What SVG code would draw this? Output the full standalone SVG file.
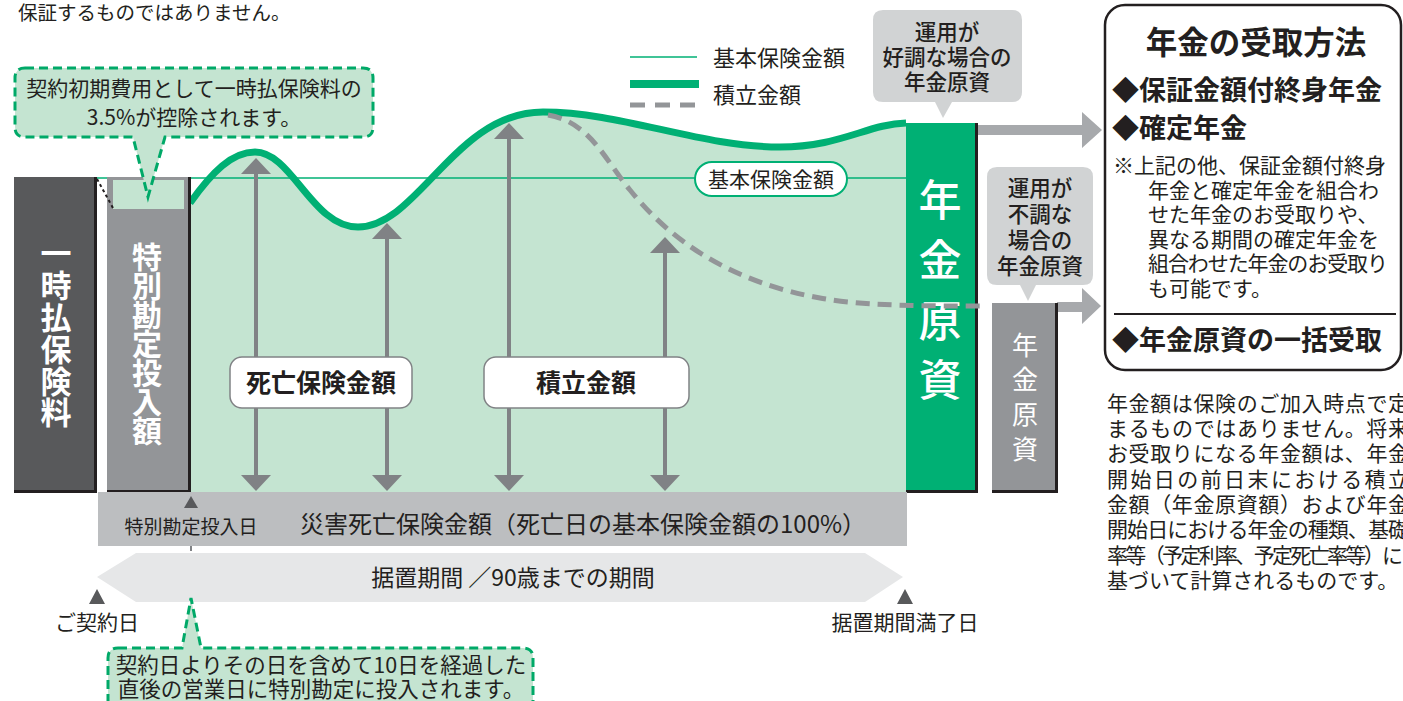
<svg xmlns="http://www.w3.org/2000/svg" width="1403" height="701" viewBox="0 0 1403 701">
<style>
text{font-family:"Noto Sans CJK JP","Noto Sans",sans-serif;fill:#231f20}
.w{fill:#ffffff}
.b{font-weight:bold}
.m{font-weight:500}
.mid{text-anchor:middle}
.para{font-size:21px}
.dash-green{fill:#c4e4d1;stroke:#00a968;stroke-width:3;stroke-dasharray:9 5}
.gcall{fill:#d1d3d4}
.edge{stroke:#231f20;stroke-width:3;fill:none}
.varrow{stroke:#808285;stroke-width:4;marker-start:url(#ah);marker-end:url(#ah)}
.rarrow{fill:#a7a9ac}
</style>
<defs>
<marker id="ah" markerUnits="userSpaceOnUse" markerWidth="16" markerHeight="30" viewBox="0 0 16 30" refX="0" refY="15" orient="auto-start-reverse">
<path d="M0,0 L16,15 L0,30 Z" fill="#808285"/>
</marker>
</defs>
<rect width="1403" height="701" fill="#ffffff"/>

<text x="18" y="20" font-size="19.5">保証するものではありません。</text>

<g id="chart-area">
<path d="M190,492 V203 C212,172 232,152 255,152 C292,152 312,227 358,227 C418,227 455,112 543,112 C622,112 700,147 780,147 C840,147 868,124 906,123 V492 Z" fill="#c4e4d1"/>
<line x1="97" y1="178" x2="906" y2="178" stroke="#00b074" stroke-width="1.6"/>
<path d="M190,203 C212,172 232,152 255,152 C292,152 312,227 358,227 C418,227 455,112 543,112 C622,112 700,147 780,147 C840,147 868,124 906,123" fill="none" stroke="#00b074" stroke-width="7"/>
</g>

<g id="lump-sum">
<rect x="14" y="177" width="83" height="315" fill="#58595b"/>
<path class="edge" d="M95.5,177 V491.5 H14"/>
<text class="w b mid" font-size="31"><tspan x="56" y="265">一</tspan><tspan x="56" y="297">時</tspan><tspan x="56" y="329">払</tspan><tspan x="56" y="361">保</tspan><tspan x="56" y="393">険</tspan><tspan x="56" y="424">料</tspan></text>
</g>

<g id="special-account">
<rect x="107" y="177" width="83" height="315" fill="#939598"/>
<rect x="113" y="180" width="71" height="29" fill="#c4e4d1"/>
<path class="edge" d="M189.5,177 V491.5 H107"/>
<line x1="97" y1="179" x2="113" y2="208" stroke="#231f20" stroke-width="2" stroke-dasharray="3 3"/>
<text class="w b mid" font-size="30"><tspan x="147" y="268">特</tspan><tspan x="147" y="297">別</tspan><tspan x="147" y="326">勘</tspan><tspan x="147" y="355">定</tspan><tspan x="147" y="384">投</tspan><tspan x="147" y="413">入</tspan><tspan x="147" y="442">額</tspan></text>
</g>

<g id="fee-callout">
<path class="dash-green" d="M25,68 H363 Q373,68 373,78 V127 Q373,137 363,137 H165 L148,197 L133,137 H25 Q15,137 15,127 V78 Q15,68 25,68 Z"/>
<text class="mid" font-size="21"><tspan x="194" y="96">契約初期費用として一時払保険料の</tspan><tspan x="194" y="125">3.5%が控除されます。</tspan></text>
</g>

<g id="legend">
<line x1="630" y1="57" x2="697" y2="57" stroke="#00b074" stroke-width="1.6"/>
<line x1="630" y1="84" x2="699" y2="84" stroke="#00b074" stroke-width="8"/>
<line x1="630" y1="105" x2="695" y2="105" stroke="#939598" stroke-width="5" stroke-dasharray="15 10"/>
<text x="713" y="66" font-size="22">基本保険金額</text>
<text x="713" y="103" font-size="22">積立金額</text>
</g>

<g id="connectors">
<line class="varrow" x1="256" y1="174" x2="256" y2="475"/>
<line class="varrow" x1="387" y1="239" x2="387" y2="475"/>
<line class="varrow" x1="509" y1="139" x2="509" y2="475"/>
<line class="varrow" x1="665" y1="253" x2="665" y2="475"/>
<polygon class="rarrow" points="977,125 1082,125 1082,112 1102,130 1082,148 1082,135 977,135"/>
<polygon class="rarrow" points="1057,302 1082,302 1082,288 1101,306 1082,324 1082,312 1057,312"/>
<line x1="191" y1="506" x2="191" y2="598" stroke="#808285" stroke-width="2" stroke-dasharray="5 3"/>
</g>

<g id="basic-amount-label">
<rect x="695" y="162" width="152" height="34" rx="17" fill="#ffffff" stroke="#00b074" stroke-width="2"/>
<text class="mid" x="771" y="187" font-size="21">基本保険金額</text>
</g>

<g id="death-benefit-label">
<rect x="230" y="357" width="182" height="51" rx="12" fill="#ffffff" stroke="#808285" stroke-width="1.5"/>
<text class="b mid" x="321" y="392" font-size="25">死亡保険金額</text>
</g>

<g id="accumulation-label">
<rect x="484" y="357" width="205" height="51" rx="12" fill="#ffffff" stroke="#808285" stroke-width="1.5"/>
<text class="b mid" x="586" y="392" font-size="25">積立金額</text>
</g>

<g id="pension-fund-good">
<rect x="906" y="123" width="71" height="369" fill="#00b074"/>
<path class="edge" d="M976.5,123 V491.5 H906"/>
<text class="w m mid" font-size="43"><tspan x="940" y="216">年</tspan><tspan x="940" y="276">金</tspan><tspan x="940" y="337">原</tspan><tspan x="940" y="396">資</tspan></text>
</g>

<g id="dashed-curve">
<path d="M548,115 C590,122 605,160 630,190 C670,240 730,282 820,298 C860,305 900,306 985,306" fill="none" stroke="#939598" stroke-width="5" stroke-dasharray="14 8"/>
</g>

<g id="pension-fund-poor">
<rect x="992" y="303" width="65" height="189" fill="#939598"/>
<path class="edge" d="M1056.5,303 V491.5 H992"/>
<text class="w mid" font-size="26"><tspan x="1025" y="355">年</tspan><tspan x="1025" y="389">金</tspan><tspan x="1025" y="424">原</tspan><tspan x="1025" y="459">資</tspan></text>
</g>

<g id="good-callout">
<path class="gcall" d="M883,10 H1012 Q1022,10 1022,20 V92 Q1022,102 1012,102 H952 L943,118 L935,102 H883 Q873,102 873,92 V20 Q873,10 883,10 Z"/>
<text class="m mid" font-size="21.5"><tspan x="947" y="40">運用が</tspan><tspan x="947" y="65">好調な場合の</tspan><tspan x="947" y="90">年金原資</tspan></text>
</g>

<g id="poor-callout">
<path class="gcall" d="M997,167 H1083 Q1093,167 1093,177 V275 Q1093,285 1083,285 H1036 L1028,301 L1020,285 H997 Q987,285 987,275 V177 Q987,167 997,167 Z"/>
<text class="m mid" font-size="21.5"><tspan x="1040" y="196">運用が</tspan><tspan x="1040" y="222">不調な</tspan><tspan x="1040" y="248">場合の</tspan><tspan x="1040" y="274">年金原資</tspan></text>
</g>

<g id="accidental-band">
<rect x="98" y="492" width="809" height="54" fill="#bcbec0"/>
<polygon points="184,508 191,496 198,508" fill="#58595b"/>
<text class="mid" x="191" y="534" font-size="19">特別勘定投入日</text>
<text x="300" y="533" font-size="24">災害死亡保険金額（死亡日の基本保険金額の100%）</text>
</g>

<g id="deferral-band">
<polygon points="97,577 136,553 865,553 903,577 865,602 136,602" fill="#e6e7e8"/>
<text class="mid" x="513" y="586" font-size="23">据置期間 ／90歳までの期間</text>
</g>

<g id="contract-date">
<polygon points="89,604 97,589 105,604" fill="#58595b"/>
<text class="mid" x="97" y="630" font-size="21">ご契約日</text>
</g>

<g id="deferral-end">
<polygon points="897,604 905,589 913,604" fill="#58595b"/>
<text class="mid" x="905" y="630" font-size="21">据置期間満了日</text>
</g>

<g id="invest-callout">
<path class="dash-green" d="M118,648 H182 L191,598 L201,648 H523 Q533,648 533,658 V720 H108 V658 Q108,648 118,648 Z"/>
<text class="mid" font-size="21.5"><tspan x="321" y="673">契約日よりその日を含めて10日を経過した</tspan><tspan x="321" y="697">直後の営業日に特別勘定に投入されます。</tspan></text>
</g>

<g id="payout-methods">
<rect x="1105" y="5" width="296" height="365" rx="20" fill="#ffffff" stroke="#231f20" stroke-width="2.5"/>
<line x1="1114" y1="314" x2="1396" y2="314" stroke="#231f20" stroke-width="2"/>
<text class="b mid" x="1256" y="54" font-size="31.5">年金の受取方法</text>
<text class="b" x="1112" y="100" font-size="27">◆保証金額付終身年金</text>
<text class="b" x="1112" y="138" font-size="27">◆確定年金</text>
<text class="para" x="1113" y="173">※上記の他、保証金額付終身</text>
<text class="para" x="1148" y="198">年金と確定年金を組合わ</text>
<text class="para" x="1148" y="222">せた年金のお受取りや、</text>
<text class="para" x="1148" y="247">異なる期間の確定年金を</text>
<text class="para" x="1148" y="271" textLength="240" lengthAdjust="spacing">組合わせた年金のお受取り</text>
<text class="para" x="1148" y="296">も可能です。</text>
<text class="b" x="1112" y="350" font-size="27">◆年金原資の一括受取</text>
</g>

<g id="note">
<text class="para" x="1107" y="411" textLength="302" lengthAdjust="spacing">年金額は保険のご加入時点で定</text>
<text class="para" x="1107" y="436" textLength="302" lengthAdjust="spacing">まるものではありません。将来</text>
<text class="para" x="1107" y="461" textLength="302" lengthAdjust="spacing">お受取りになる年金額は、年金</text>
<text class="para" x="1107" y="487" textLength="302" lengthAdjust="spacing">開始日の前日末における積立</text>
<text class="para" x="1107" y="512" textLength="302" lengthAdjust="spacing">金額（年金原資額）および年金</text>
<text class="para" x="1107" y="537" textLength="302" lengthAdjust="spacing">開始日における年金の種類、基礎</text>
<text class="para" x="1107" y="563" textLength="296" lengthAdjust="spacing">率等（予定利率、予定死亡率等）に</text>
<text class="para" x="1107" y="588">基づいて計算されるものです。</text>
</g>
</svg>
